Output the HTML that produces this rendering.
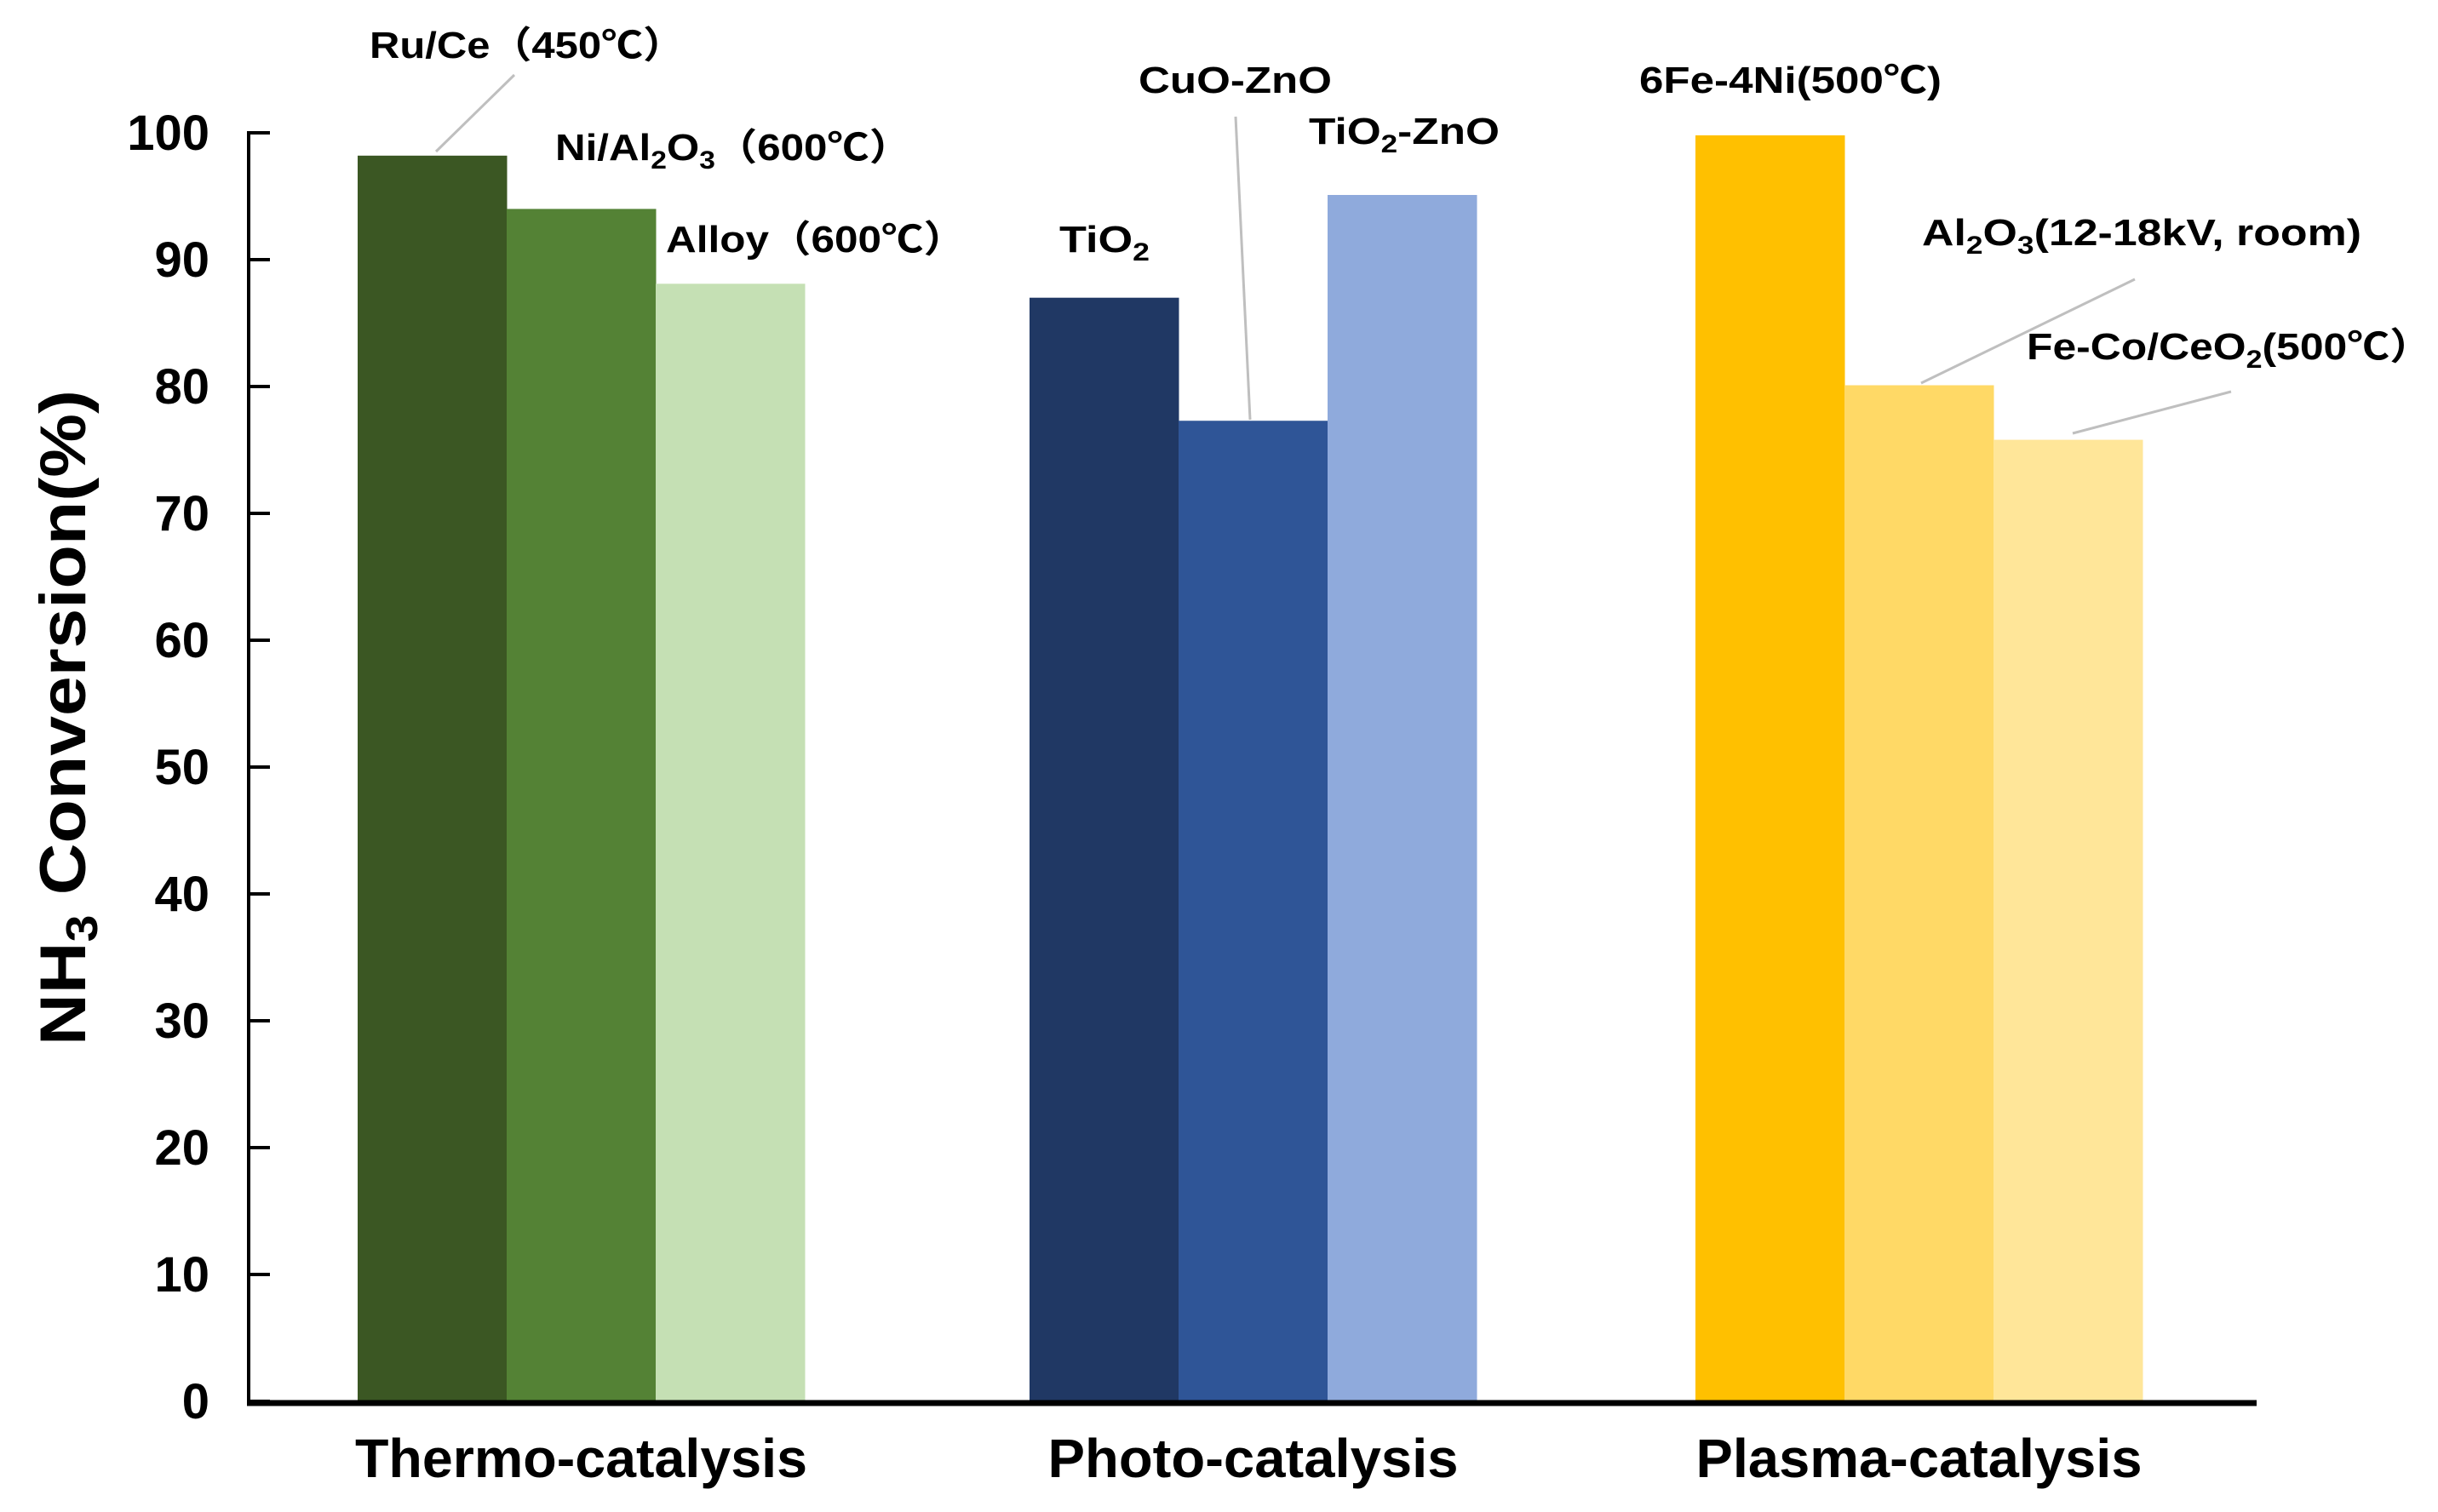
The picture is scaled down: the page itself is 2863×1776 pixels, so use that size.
<!DOCTYPE html>
<html><head><meta charset="utf-8"><style>
html,body{margin:0;padding:0;background:#fff;}
svg{display:block;font-family:"Liberation Sans","Noto Sans CJK SC",sans-serif;font-weight:bold;}
</style></head><body>
<svg id="chart" width="2863" height="1776" viewBox="0 0 2863 1776" xmlns="http://www.w3.org/2000/svg">
<g id="bars"></g>
<g id="axes"></g>
<g id="annotations" font-size="44" fill="#000">
  <line x1="604" y1="88" x2="512" y2="178" stroke="#BFBFBF" stroke-width="3"/>
  <line x1="1451" y1="137" x2="1468" y2="493" stroke="#BFBFBF" stroke-width="3"/>
  <line x1="2507" y1="328" x2="2256" y2="450" stroke="#BFBFBF" stroke-width="3"/>
  <line x1="2620" y1="460" x2="2434" y2="509" stroke="#BFBFBF" stroke-width="3"/>
  <text x="434" y="68" textLength="370" lengthAdjust="spacingAndGlyphs">Ru/Ce（450℃）</text>
  <text x="652" y="188" textLength="418" lengthAdjust="spacingAndGlyphs">Ni/Al<tspan font-size="30" dy="10">2</tspan><tspan dy="-10">O</tspan><tspan font-size="30" dy="10">3</tspan><tspan dy="-10">（600℃）</tspan></text>
  <text x="782" y="296" textLength="352" lengthAdjust="spacingAndGlyphs">Alloy（600℃）</text>
  <text x="1244" y="296" textLength="106" lengthAdjust="spacingAndGlyphs">TiO<tspan font-size="30" dy="10">2</tspan></text>
  <text x="1337" y="109" textLength="227" lengthAdjust="spacingAndGlyphs">CuO-ZnO</text>
  <text x="1537" y="169" textLength="224" lengthAdjust="spacingAndGlyphs">TiO<tspan font-size="30" dy="10">2</tspan><tspan dy="-10">-ZnO</tspan></text>
  <text x="1925" y="109" textLength="355" lengthAdjust="spacingAndGlyphs">6Fe-4Ni(500℃)</text>
  <text x="2257" y="288" textLength="516" lengthAdjust="spacingAndGlyphs">Al<tspan font-size="30" dy="10">2</tspan><tspan dy="-10">O</tspan><tspan font-size="30" dy="10">3</tspan><tspan dy="-10">(12-18kV, room)</tspan></text>
  <text x="2380" y="422" textLength="476" lengthAdjust="spacingAndGlyphs">Fe-Co/CeO<tspan font-size="30" dy="10">2</tspan><tspan dy="-10">(500℃）</tspan></text>
</g>
<text transform="translate(100,843) rotate(-90)" text-anchor="middle" font-size="76" textLength="770" lengthAdjust="spacingAndGlyphs">NH<tspan font-size="52" dy="14">3</tspan><tspan dy="-14"> Conversion(%)</tspan></text>
<script>
const categories = ["Thermo-catalysis","Photo-catalysis","Plasma-catalysis"];
const seriesNames = [["Ru/Ce","Ni/Al2O3","Alloy"],["TiO2","CuO-ZnO","TiO2-ZnO"],["6Fe-4Ni","Al2O3","Fe-Co/CeO2"]];
const values = [[98.2,94.0,88.1],[87.0,77.3,95.1],[99.8,80.1,75.8]];
const colors = [["#3B5723","#548235","#C5E0B4"],["#203864","#2F5597","#8FAADC"],["#FFC000","#FFD966","#FFE699"]];
const yTicks = [0,10,20,30,40,50,60,70,80,90,100];

const NS="http://www.w3.org/2000/svg";
const y0=1646, yPer=14.9, axisX=292, axisRight=2650;
const groupStart=[420,1209,1991], barW=175;
const catWidths=[531,482,524];
function yScale(v){return y0-v*yPer;}
function xBar(g,i){return groupStart[g]+i*barW;}
function mk(t,a){const e=document.createElementNS(NS,t);for(const k in a)e.setAttribute(k,a[k]);return e;}
const bars=document.getElementById('bars');
values.forEach((grp,g)=>grp.forEach((v,i)=>{
  const r=mk('rect',{x:xBar(g,i),y:yScale(v),width:barW+0.5,height:y0-yScale(v),fill:colors[g][i]});
  
  
  bars.appendChild(r);
}));
const axes=document.getElementById('axes');
const yl=mk('line',{x1:axisX,y1:yScale(100)-2,x2:axisX,y2:y0,stroke:'#000','stroke-width':4});


axes.appendChild(yl);
const xl=mk('line',{x1:axisX-2,y1:y0+2,x2:axisRight,y2:y0+2,stroke:'#000','stroke-width':7});


axes.appendChild(xl);
yTicks.forEach(t=>{
  const y=yScale(t);
  const tk=mk('line',{x1:axisX,y1:y,x2:axisX+25,y2:y,stroke:'#000','stroke-width':4});
  
  
  axes.appendChild(tk);
  const lb=mk('text',{x:246,y:y+20,'text-anchor':'end','font-size':58});
  lb.textContent=t;
  
  
  axes.appendChild(lb);
});
categories.forEach((c,g)=>{
  const cx=xBar(g,0)+barW*1.5;
  const lb=mk('text',{x:cx,y:1735,'text-anchor':'middle','font-size':64,textLength:catWidths[g],lengthAdjust:'spacingAndGlyphs'});
  lb.textContent=c;
  
  
  axes.appendChild(lb);
});
</script>
</svg>
</body></html>
